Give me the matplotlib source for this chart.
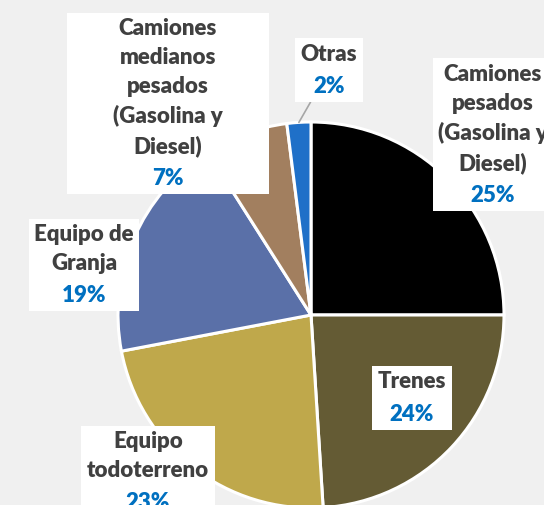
import matplotlib
matplotlib.use("Agg")
import numpy as np
import matplotlib.pyplot as plt
from matplotlib.offsetbox import TextArea, VPacker, HPacker, DrawingArea, AnnotationBbox

# datos
categorias = ["Camiones\npesados\n(Gasolina y\nDiesel)", "Trenes", "Equipo\ntodoterreno",
              "Equipo de\nGranja", "Camiones\nmedianos\npesados\n(Gasolina y\nDiesel)", "Otras"]
valores = [25, 24, 23, 19, 7, 2]
colores = ["#000000", "#645b34", "#bfa84b", "#5a70a8", "#a27f5f", "#1f70c8"]

# posiciones de etiquetas (unidades del radio, relativo al centro)
pos_x = [0.943, 0.523, -0.845, -1.176, -0.741, 0.093]
pos_y = [0.933, -0.430, -0.815, 0.259, 1.095, 1.269]
relleno_extra = [0, 0, 0, 0, 29, 0]

fig = plt.figure(figsize=(5.44, 5.05), dpi=100)
fig.patch.set_facecolor("#f0f0f0")
ax = fig.add_axes([0, 0, 1, 1])
ax.set_facecolor("#f0f0f0")

wedges, _ = ax.pie(valores, colors=colores, startangle=90, counterclock=False,
                   radius=1, wedgeprops=dict(edgecolor="white", linewidth=2.2))

r = 193.0
ax.set_xlim(-311 / r, (544 - 311) / r)
ax.set_ylim(-(505 - 315) / r, 315 / r)
ax.set_aspect("equal")
ax.axis("off")

fuente = "Lato"
total = sum(valores)
for i, (w, nombre, v) in enumerate(zip(wedges, categorias, valores)):
    t1 = TextArea(nombre, textprops=dict(color="#404040", fontsize=16, fontweight="heavy",
                                         family=fuente, ha="center", multialignment="center",
                                         linespacing=1.45))
    t2 = TextArea(f"{round(v / total * 100)}%", textprops=dict(color="#0070c0", fontsize=16,
                                                              fontweight="heavy", family=fuente))
    caja = VPacker(children=[t1, t2], align="center", pad=0, sep=8)
    if relleno_extra[i]:
        caja = HPacker(children=[DrawingArea(relleno_extra[i], 1), caja,
                                 DrawingArea(relleno_extra[i], 1)], align="center", pad=0, sep=0)
    ang = np.deg2rad((w.theta1 + w.theta2) / 2)
    borde = (np.cos(ang), np.sin(ang))
    flecha = None
    if nombre == "Otras":
        flecha = dict(arrowstyle="-", color="#a6a6a6", lw=1.2, shrinkA=0, shrinkB=0)
    ab = AnnotationBbox(caja, borde, xybox=(pos_x[i], pos_y[i]), xycoords="data",
                        boxcoords="data", frameon=True, pad=0.4,
                        bboxprops=dict(facecolor="white", edgecolor="none"),
                        arrowprops=flecha)
    ax.add_artist(ab)

fig.savefig("out.png", dpi=100, facecolor=fig.get_facecolor())
